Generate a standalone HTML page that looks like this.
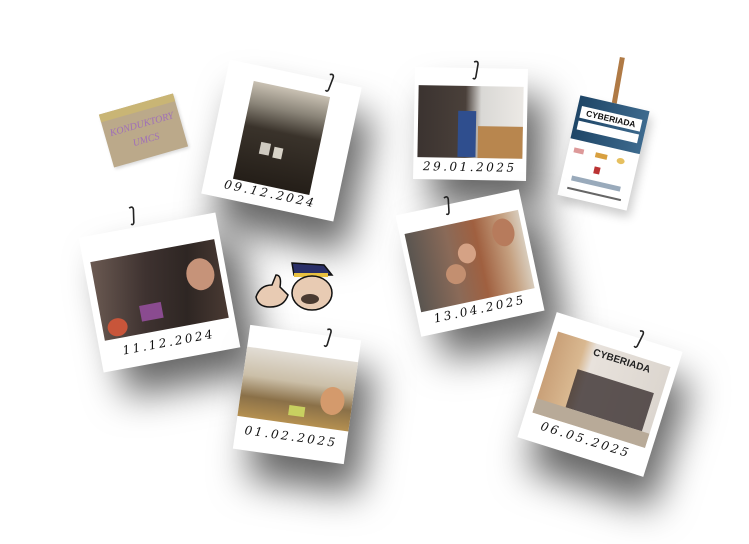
<!DOCTYPE html>
<html><head><meta charset="utf-8">
<style>
html,body{margin:0;padding:0;background:#fff;}
#stage{position:relative;width:749px;height:544px;overflow:hidden;background:#fff;font-family:"Liberation Serif",serif;}
.pol{position:absolute;background:#fff;box-shadow:18px 28px 38px rgba(0,0,0,0.6);}
.photo{position:absolute;overflow:hidden;}
.date{position:absolute;left:0;right:0;text-align:center;font-family:"DejaVu Serif",serif;font-style:italic;font-size:12px;letter-spacing:2.5px;color:#111;}
.clip{position:absolute;width:10px;height:20px;}
</style></head><body>
<div id="stage">

<!-- cardboard note -->
<div style="position:absolute;left:105px;top:103px;width:77px;height:55px;background:#bba98a;transform:rotate(-16deg);box-shadow:1px 2px 3px rgba(0,0,0,0.15);">
  <div style="position:absolute;left:0;top:0;right:0;height:8px;background:#c9b575;"></div>
  <div style="position:absolute;left:2px;top:14px;width:73px;text-align:center;color:#a070b8;font-family:'Liberation Serif',serif;font-style:italic;font-size:10px;line-height:16px;">KONDUKTORY<br>UMCS</div>
</div>

<!-- 09.12.2024 -->
<div class="pol" style="left:214px;top:72px;width:135px;height:137px;transform:rotate(12deg);">
  <div class="photo" style="left:28px;top:16px;width:78px;height:100px;background:linear-gradient(180deg,#c9c1b3 0%,#8a8478 22%,#3a332b 45%,#241e18 100%);">
    <div style="position:absolute;left:20px;top:58px;width:10px;height:12px;background:#cfcac0;"></div>
    <div style="position:absolute;left:34px;top:60px;width:9px;height:11px;background:#d8d3c8;"></div>
  </div>
  <div class="date" style="top:116px;">09.12.2024</div>
  <svg class="clip" style="left:98px;top:-8px;" viewBox="0 0 10 20"><path d="M3 2 Q7 0 7 4 L5 17 Q4 20 2 18" fill="none" stroke="#222" stroke-width="1.6"/></svg>
</div>

<!-- 29.01.2025 -->
<div class="pol" style="left:414px;top:68px;width:113px;height:112px;transform:rotate(1deg);">
  <div class="photo" style="left:4px;top:18px;width:105px;height:72px;background:linear-gradient(90deg,#3b3330 0%,#4a403a 45%,#d9d8d5 60%,#ece9e5 100%);">
    <div style="position:absolute;left:40px;top:25px;width:18px;height:46px;background:#2f4e8e;"></div>
    <div style="position:absolute;left:60px;top:40px;width:45px;height:32px;background:#b8864e;"></div>
  </div>
  <div class="date" style="top:92px;">29.01.2025</div>
  <svg class="clip" style="left:56px;top:-8px;" viewBox="0 0 10 20"><path d="M3 2 Q7 0 7 4 L5 17 Q4 20 2 18" fill="none" stroke="#222" stroke-width="1.6"/></svg>
</div>

<!-- Cyberiada poster -->
<div style="position:absolute;left:615px;top:57px;width:5px;height:56px;background:#b07a45;transform:rotate(10deg);"></div>
<div class="pol" style="left:568px;top:102px;width:71px;height:102px;transform:rotate(13deg);box-shadow:4px 6px 10px rgba(0,0,0,0.2);">
  <div style="position:absolute;left:0;top:0;width:71px;height:44px;background:linear-gradient(90deg,#1e4566,#3d6a8e);"></div>
  <div style="position:absolute;left:4px;top:10px;width:62px;height:12px;background:#fff;font-family:'Liberation Sans',sans-serif;font-weight:bold;font-size:8.5px;line-height:12px;text-align:center;color:#111;">CYBERIADA</div>
  <div style="position:absolute;left:4px;top:25px;width:62px;height:9px;background:#fff;"></div>
  <div style="position:absolute;left:6px;top:52px;width:10px;height:5px;background:#d99;"></div>
  <div style="position:absolute;left:28px;top:52px;width:12px;height:5px;background:#d8a040;"></div>
  <div style="position:absolute;left:50px;top:52px;width:8px;height:6px;border-radius:50%;background:#e6c060;"></div>
  <div style="position:absolute;left:30px;top:66px;width:6px;height:7px;background:#b33;"></div>
  <div style="position:absolute;left:10px;top:80px;width:50px;height:5px;background:#9ab;"></div>
  <div style="position:absolute;left:8px;top:92px;width:55px;height:2px;background:#666;"></div>
</div>

<!-- 11.12.2024 -->
<div class="pol" style="left:90px;top:224px;width:139px;height:137px;transform:rotate(-10.5deg);">
  <div class="photo" style="left:7px;top:26px;width:126px;height:80px;background:linear-gradient(100deg,#6b5a52 0%,#3e3230 40%,#2e2623 70%,#4a3a33 100%);">
    <div style="position:absolute;left:92px;top:16px;width:28px;height:32px;border-radius:50%;background:#c69379;"></div>
    <div style="position:absolute;left:5px;top:60px;width:20px;height:18px;border-radius:50%;background:#c8553a;"></div>
    <div style="position:absolute;left:40px;top:52px;width:22px;height:16px;background:#8a4b90;"></div>
  </div>
  <div class="date" style="top:112px;">11.12.2024</div>
  <svg class="clip" style="left:52px;top:-22px;" viewBox="0 0 10 20"><path d="M3 2 Q7 0 7 4 L5 17 Q4 20 2 18" fill="none" stroke="#222" stroke-width="1.6"/></svg>
</div>

<!-- mascot -->
<svg style="position:absolute;left:252px;top:255px;" width="85" height="65" viewBox="0 0 85 65">
  <path d="M40 8 L72 10 L80 20 L42 20 Z" fill="#2a2f68" stroke="#111" stroke-width="1.5"/>
  <rect x="42" y="18" width="34" height="4" fill="#e8c040"/>
  <ellipse cx="60" cy="38" rx="20" ry="17" fill="#e8cbb3" stroke="#111" stroke-width="1.5"/>
  <ellipse cx="58" cy="44" rx="9" ry="5" fill="#4a3a30"/>
  <path d="M4 42 Q8 30 20 30 L24 20 Q30 20 28 32 L36 40 Q32 52 18 52 Q6 52 4 42 Z" fill="#e8cbb3" stroke="#111" stroke-width="1.5"/>
</svg>

<!-- 13.04.2025 -->
<div class="pol" style="left:407px;top:201px;width:126px;height:124px;transform:rotate(-12deg);">
  <div class="photo" style="left:5px;top:20px;width:116px;height:80px;background:linear-gradient(90deg,#5a5550 0%,#8a6a58 35%,#a06040 60%,#c5a080 85%,#d8ccbc 100%);">
    <div style="position:absolute;left:86px;top:5px;width:22px;height:28px;border-radius:50%;background:#b77b5c;"></div>
    <div style="position:absolute;left:48px;top:22px;width:18px;height:20px;border-radius:50%;background:#d5a285;"></div>
    <div style="position:absolute;left:32px;top:40px;width:20px;height:20px;border-radius:50%;background:#c38f70;"></div>
  </div>
  <div class="date" style="top:102px;">13.04.2025</div>
  <svg class="clip" style="left:48px;top:-9px;" viewBox="0 0 10 20"><path d="M3 2 Q7 0 7 4 L5 17 Q4 20 2 18" fill="none" stroke="#222" stroke-width="1.6"/></svg>
</div>

<!-- 01.02.2025 -->
<div class="pol" style="left:241px;top:332px;width:112px;height:125px;transform:rotate(8deg);">
  <div class="photo" style="left:0px;top:22px;width:112px;height:70px;background:linear-gradient(180deg,#e2ddd5 0%,#cbbfa8 40%,#8a7048 70%,#b59050 100%);">
    <div style="position:absolute;left:80px;top:28px;width:24px;height:28px;border-radius:50%;background:#d49a6c;"></div>
    <div style="position:absolute;left:50px;top:52px;width:16px;height:10px;background:#c8d060;"></div>
  </div>
  <div class="date" style="top:98px;">01.02.2025</div>
  <svg class="clip" style="left:74px;top:-8px;" viewBox="0 0 10 20"><path d="M3 2 Q7 0 7 4 L5 17 Q4 20 2 18" fill="none" stroke="#222" stroke-width="1.6"/></svg>
</div>

<!-- 06.05.2025 -->
<div class="pol" style="left:534px;top:329px;width:132px;height:131px;transform:rotate(17.5deg);">
  <div class="photo" style="left:7px;top:18px;width:118px;height:85px;background:linear-gradient(90deg,#c9a078 0%,#d9b890 25%,#e8e2dc 35%,#dcd6cf 100%);">
    <div style="position:absolute;left:40px;top:4px;font-family:'Liberation Sans',sans-serif;font-weight:bold;font-size:10px;color:#222;">CYBERIADA</div>
    <div style="position:absolute;left:30px;top:30px;width:80px;height:40px;background:#3a3030;opacity:0.8;"></div>
    <div style="position:absolute;left:0;top:70px;width:118px;height:15px;background:#b8aa98;"></div>
  </div>
  <div class="date" style="top:106px;">06.05.2025</div>
  <svg class="clip" style="left:82px;top:-9px;" viewBox="0 0 10 20"><path d="M3 2 Q7 0 7 4 L5 17 Q4 20 2 18" fill="none" stroke="#222" stroke-width="1.6"/></svg>
</div>

</div>
</body></html>
